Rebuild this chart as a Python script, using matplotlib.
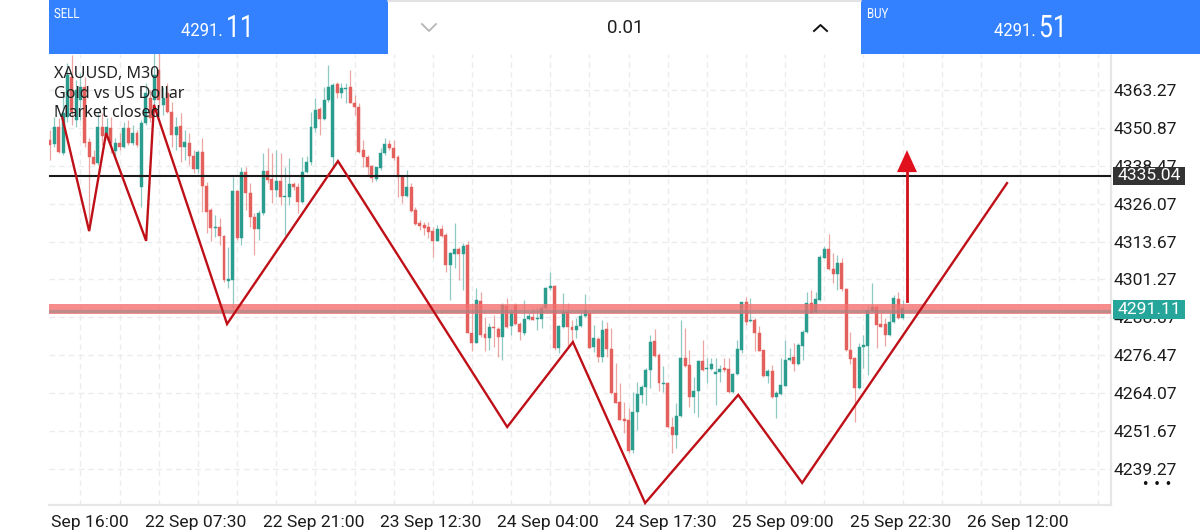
import matplotlib
matplotlib.use("Agg")
import matplotlib.pyplot as plt
from matplotlib.patches import Rectangle
from matplotlib.patheffects import AbstractPathEffect
from matplotlib.transforms import ScaledTranslation, Affine2D

# ---------- data ----------
direction = ("RGRGGRGGRR" "RGRGRGRGRG" "RGGRGRGRRG" "RGRRGRRRGR" "RGGRGRRRGG"
             "RRGRGGRRGG" "GGRGGGRGGR" "RRRRRGGGRR" "RRGRRRRRRG" "RRGGRGRRGR"
             "RGRRGRGRRG" "GRGGGGRGGR" "RGGGRGRGRR" "RRRRGGGGGR" "RGRRGGRRGG"
             "RGGGGRRGGG" "RGRRRGRGGG" "GRGGGRGGGR" "RGRRRRGGGG" "RRRGGRG")
body_top = [
4346.9,4351.1,4351.1,4355.6,4368.2,4367.6,4363.3,4364.4,4364.4,4346.4,
4341.5,4351.1,4351.1,4351.1,4350.7,4346.0,4346.0,4350.7,4350.7,4349.1,
4349.1,4352.6,4362.2,4360.5,4368.2,4369.8,4360.5,4362.2,4356.2,4351.3,
4351.5,4346.4,4346.0,4341.7,4343.1,4343.1,4331.9,4324.0,4318.6,4318.6,
4315.5,4301.3,4330.3,4330.3,4336.5,4336.5,4329.7,4321.8,4322.9,4336.9,
4336.9,4334.0,4333.6,4333.6,4328.6,4332.4,4332.4,4331.4,4336.5,4339.8,
4351.1,4356.7,4357.0,4360.0,4364.4,4364.9,4365.2,4363.8,4363.9,4364.4,
4359.1,4357.8,4343.6,4341.2,4338.4,4338.0,4342.8,4345.6,4345.6,4344.2,
4341.2,4334.9,4331.6,4331.6,4324.0,4319.7,4319.1,4318.3,4317.2,4317.7,
4317.7,4315.8,4309.8,4311.1,4311.1,4312.3,4312.6,4283.7,4294.6,4294.3,
4283.4,4285.8,4285.8,4285.0,4292.9,4292.6,4290.7,4292.9,4286.7,4288.3,
4289.3,4289.1,4288.6,4291.8,4298.6,4299.1,4299.1,4286.1,4290.7,4290.7,
4285.6,4286.2,4289.4,4291.3,4290.4,4282.1,4281.9,4284.7,4285.0,4278.4,
4264.2,4261.1,4255.6,4255.3,4258.0,4263.7,4266.0,4271.7,4280.9,4281.1,
4276.6,4267.5,4267.3,4252.9,4256.7,4275.5,4275.5,4273.2,4264.8,4274.6,
4274.6,4272.2,4273.6,4270.9,4272.1,4272.2,4271.9,4270.4,4278.4,4294.0,
4294.0,4288.0,4288.0,4283.6,4278.2,4271.4,4271.3,4264.2,4266.7,4274.9,
4275.6,4275.8,4279.8,4284.2,4293.5,4293.5,4294.8,4308.5,4311.1,4311.1,
4304.7,4306.8,4306.8,4298.2,4278.2,4275.5,4279.1,4279.8,4291.3,4292.2,
4292.2,4286.7,4286.7,4287.5,4295.1,4294.8,4291.8]
body_bottom = [
4345.3,4345.5,4343.1,4342.6,4354.5,4356.2,4353.5,4360.0,4346.0,4341.5,
4338.9,4339.3,4348.2,4348.5,4345.8,4343.4,4344.5,4344.5,4346.0,4346.0,
4345.3,4331.4,4352.6,4354.0,4360.0,4360.0,4358.4,4356.2,4348.5,4348.5,
4344.7,4344.5,4341.7,4337.3,4337.3,4331.9,4323.5,4318.2,4318.2,4315.5,
4301.1,4300.9,4301.1,4314.7,4314.7,4329.7,4321.8,4317.8,4317.8,4322.9,
4333.8,4330.6,4330.6,4328.4,4328.2,4328.4,4331.4,4326.7,4326.7,4336.3,
4339.6,4350.7,4353.7,4353.7,4360.0,4341.5,4362.2,4362.4,4363.7,4359.1,
4357.8,4343.1,4341.2,4338.2,4334.4,4334.0,4337.6,4342.6,4344.2,4340.9,
4334.9,4328.6,4328.6,4323.8,4319.4,4318.9,4318.0,4316.9,4314.0,4314.0,
4315.6,4306.0,4306.0,4309.6,4309.6,4309.5,4283.7,4280.4,4280.4,4283.1,
4282.0,4282.0,4285.3,4282.3,4282.3,4285.8,4286.1,4286.7,4284.2,4283.7,
4288.2,4288.0,4288.2,4288.2,4291.8,4298.5,4278.8,4278.8,4285.8,4285.8,
4284.7,4284.7,4286.2,4289.4,4279.0,4279.1,4276.0,4276.0,4278.4,4264.0,
4261.0,4255.3,4255.1,4245.2,4245.5,4258.0,4263.6,4266.0,4271.7,4276.2,
4267.3,4267.2,4252.9,4250.4,4250.4,4256.7,4273.0,4262.9,4262.9,4264.8,
4271.7,4271.9,4272.0,4270.2,4270.9,4271.7,4264.6,4264.3,4270.4,4278.2,
4287.5,4287.7,4283.6,4277.9,4269.7,4269.7,4262.7,4262.7,4263.7,4266.5,
4274.9,4273.6,4273.6,4279.5,4284.2,4290.4,4290.5,4294.6,4308.3,4304.6,
4302.9,4302.9,4298.0,4278.2,4275.1,4265.9,4265.6,4279.1,4279.6,4291.1,
4286.4,4285.6,4283.1,4283.1,4287.2,4288.6,4288.6]
high = [
4350.2,4354.5,4354.0,4362.2,4372.0,4374.7,4366.5,4368.7,4367.6,4347.5,
4343.6,4355.6,4355.6,4354.0,4354.5,4347.5,4349.1,4352.9,4353.5,4351.8,
4350.2,4353.5,4365.5,4363.3,4375.3,4375.3,4364.4,4365.5,4359.5,4354.5,
4355.6,4350.2,4349.1,4343.6,4343.6,4347.5,4333.3,4324.5,4322.4,4321.3,
4315.8,4312.0,4334.9,4330.6,4338.2,4338.2,4332.8,4322.9,4324.0,4342.6,
4344.2,4342.6,4343.6,4342.6,4338.2,4340.9,4333.3,4332.8,4341.5,4341.7,
4356.2,4360.5,4357.8,4364.4,4371.4,4365.5,4366.0,4365.7,4365.5,4369.8,
4361.6,4358.9,4346.9,4342.0,4338.7,4338.2,4344.2,4347.5,4346.9,4346.9,
4342.0,4335.5,4337.1,4332.7,4325.1,4320.7,4320.2,4320.2,4318.6,4319.1,
4319.1,4316.4,4310.4,4319.7,4312.0,4313.1,4313.7,4293.5,4298.4,4297.3,
4289.1,4286.9,4289.7,4285.8,4293.5,4295.1,4291.8,4293.5,4287.5,4294.6,
4290.7,4291.8,4292.4,4292.9,4298.9,4303.8,4299.5,4286.4,4296.7,4293.5,
4288.0,4288.6,4291.3,4296.5,4290.7,4286.4,4282.6,4288.0,4287.5,4285.3,
4273.8,4267.3,4261.3,4259.1,4264.6,4267.8,4266.7,4272.2,4283.1,4285.0,
4277.1,4273.0,4267.8,4256.4,4260.8,4288.0,4285.3,4278.2,4269.5,4274.9,
4281.5,4275.5,4275.5,4275.5,4273.3,4275.5,4275.5,4270.6,4281.3,4294.0,
4295.6,4295.1,4288.6,4286.0,4278.2,4271.9,4273.3,4264.9,4275.5,4281.5,
4278.7,4280.4,4280.4,4284.7,4297.3,4297.8,4297.3,4309.3,4312.2,4316.1,
4309.8,4309.3,4308.2,4298.4,4284.2,4276.0,4280.4,4283.1,4292.9,4300.2,
4292.9,4290.2,4288.6,4290.2,4296.2,4297.3,4294.6]
low = [
4340.4,4344.7,4342.6,4342.0,4352.9,4351.8,4351.3,4353.5,4344.7,4319.6,
4338.7,4338.7,4345.3,4346.9,4342.6,4341.5,4343.6,4344.2,4345.3,4345.3,
4344.7,4325.1,4351.8,4352.9,4357.8,4357.8,4355.1,4355.6,4344.7,4343.6,
4339.8,4340.4,4338.7,4336.0,4336.0,4323.5,4316.4,4313.7,4315.3,4312.6,
4300.6,4298.4,4291.8,4314.2,4312.6,4324.0,4318.6,4309.3,4314.2,4322.4,
4332.8,4326.2,4328.4,4325.6,4315.8,4325.6,4330.6,4322.9,4326.2,4336.0,
4338.7,4349.6,4348.5,4353.5,4359.5,4338.2,4360.5,4360.5,4358.9,4358.9,
4355.1,4342.6,4338.2,4335.5,4333.3,4333.6,4337.1,4342.0,4343.6,4340.4,
4328.4,4326.2,4328.4,4323.5,4319.1,4317.5,4315.8,4314.7,4308.7,4313.7,
4315.3,4303.8,4294.6,4304.9,4301.1,4297.8,4283.7,4277.7,4280.4,4282.6,
4277.7,4278.2,4279.3,4276.0,4274.9,4285.3,4283.1,4286.4,4281.5,4283.1,
4288.0,4288.0,4284.7,4285.3,4291.3,4297.8,4278.2,4277.1,4285.3,4279.3,
4280.9,4282.0,4285.8,4289.1,4278.7,4277.6,4274.4,4274.4,4276.0,4263.8,
4260.8,4255.3,4250.9,4244.6,4244.4,4252.0,4260.8,4260.2,4265.7,4275.8,
4264.9,4264.6,4252.6,4244.6,4246.0,4256.4,4272.7,4259.4,4257.7,4256.4,
4271.4,4267.3,4271.7,4260.2,4267.8,4271.1,4264.2,4264.0,4270.0,4277.1,
4286.4,4287.5,4277.7,4277.7,4269.5,4267.5,4262.4,4255.8,4263.5,4266.4,
4274.7,4271.4,4273.3,4274.9,4283.9,4290.2,4290.2,4294.3,4308.2,4304.4,
4300.0,4297.8,4297.6,4278.0,4273.6,4254.7,4265.3,4272.2,4270.0,4290.7,
4279.0,4285.6,4279.5,4282.8,4286.9,4288.3,4288.2]

zigzag_bar = [2.8,9.0,12.9,22.1,23.9,40.7,66.2,105.1,120.2,136.8,158.2,172.9,220.0]
zigzag_price = [4354.4,4317.1,4349.2,4313.9,4358.4,4286.7,4340.0,4253.0,4280.8,4228.1,4263.5,4234.7,4332.8]

price_ticks = [4363.27,4350.87,4338.47,4326.07,4313.67,4301.27,4288.87,4276.47,4264.07,4251.67,4239.27]
time_ticks = [7,34,61,88,115,142,169,196,223]
time_labels = ["Sep 16:00","22 Sep 07:30","22 Sep 21:00","23 Sep 12:30","24 Sep 04:00",
               "24 Sep 17:30","25 Sep 09:00","25 Sep 22:30","26 Sep 12:00"]
minor_time = list(range(7, 243, 9))
target_price = 4335.04
current_price = 4291.11
band_low, band_high = 4289.9, 4293.2
arrow_bar, arrow_from, arrow_base, arrow_tip = 197.0, 4294.3, 4336.4, 4343.6
arrow_half = 2.3

# ---------- style ----------
GREEN, RED = "#2a9d8f", "#e4605c"
GREEN_W, RED_W = "#8fc9c2", "#eba6a3"
BLUE = "#3381ff"
GRID = "#ececec"
W, H = 1200, 532


class Condense(AbstractPathEffect):
    """Narrows a text horizontally, as the condensed face of the app does."""
    def __init__(self, sx):
        super().__init__()
        self.sx = sx

    def draw_path(self, renderer, gc, tpath, affine, rgbFace=None):
        renderer.draw_path(gc, tpath, Affine2D().scale(self.sx, 1) + affine, rgbFace)


fig = plt.figure(figsize=(W / 100, H / 100), dpi=100, facecolor="white")
L, R, T, B = 49, 1111, 54, 505
ax = fig.add_axes([L / W, 1 - B / H, (R - L) / W, (B - T) / H])
ax.set_xlim(-0.23, 243.9)
ax.set_ylim(4227.47, 4375.05)

for s in ("top", "left"):
    ax.spines[s].set_visible(False)
for s in ("right", "bottom"):
    ax.spines[s].set_color("#e6e6e6")
    ax.spines[s].set_linewidth(1.6)

ax.set_xticks(time_ticks)
ax.set_xticklabels(time_labels, fontfamily="Roboto", fontsize=12.6, color="#1c1c1c")
ax.yaxis.tick_right()
ax.set_yticks(price_ticks)
ax.set_yticklabels([f"{p:.2f}" for p in price_ticks], fontfamily="Roboto", fontsize=12.6, color="#1c1c1c")
ax.tick_params(axis="both", length=0)
ax.tick_params(axis="x", pad=7)
ax.tick_params(axis="y", pad=2)

for v in minor_time:
    ax.axvline(v, color=GRID, lw=1, ls=(0, (4, 3)), zorder=0)
for p in price_ticks:
    ax.axhline(p, color=GRID, lw=1, ls=(0, (4, 3)), zorder=0)

shift = ScaledTranslation(-2 / 100, 0, fig.dpi_scale_trans)
labels = ax.get_xticklabels()
for t in labels[1:]:
    t.set_transform(t.get_transform() + shift)
labels[0].set_ha("left")
labels[0].set_transform(labels[0].get_transform() + ScaledTranslation(-29 / 100, 0, fig.dpi_scale_trans))

# candles
for i, d in enumerate(direction):
    wick = GREEN_W if d == "G" else RED_W
    col = GREEN if d == "G" else RED
    ax.vlines(i, low[i], high[i], color=wick, lw=0.9, zorder=2)
    ax.bar(i, body_top[i] - body_bottom[i], bottom=body_bottom[i], width=0.68,
           color=col, edgecolor=col, linewidth=0.3, zorder=3)

# levels
ax.axhspan(band_low, band_high, color="#f47070", alpha=0.8, lw=0, zorder=4)
ax.axhline(current_price, color="#8a8a8a", lw=2.2, alpha=0.5, zorder=4)
ax.axhline(target_price, color="#1a1a1a", lw=1.5, zorder=4)

# drawings
ax.plot(zigzag_bar, zigzag_price, color="#bf1018", lw=1.7, zorder=5, solid_joinstyle="miter")
ax.plot([arrow_bar, arrow_bar], [arrow_from, arrow_base], color="#d0101c", lw=2, zorder=5)
ax.fill([arrow_bar - arrow_half, arrow_bar + arrow_half, arrow_bar],
        [arrow_base, arrow_base, arrow_tip], color="#e0101c", lw=0, zorder=5)

# ---------- interface overlay (pixel space) ----------
ov = fig.add_axes([0, 0, 1, 1], zorder=5)
ov.set_xlim(0, W)
ov.set_ylim(H, 0)
ov.axis("off")
ov.patch.set_visible(False)

ov.add_patch(Rectangle((49, 0), 339, 54, color=BLUE, lw=0))
ov.add_patch(Rectangle((861, 0), 339, 54, color=BLUE, lw=0))
ov.add_patch(Rectangle((388, 0), 473, 54, color="white", lw=0))
ov.plot([388, 861], [0.5, 0.5], color="#dddddd", lw=1.2)


def ui_text(x, y, s, size, sx):
    t = ov.text(x, y, s, color="white", family="Roboto", fontsize=size, va="baseline", ha="left")
    t.set_path_effects([Condense(sx)])


ui_text(54, 18, "SELL", 10, 0.82)
ui_text(867, 18, "BUY", 10, 0.82)
ui_text(181, 36, "4291.", 13, 0.92)
ui_text(226, 37, "11", 22.3, 0.80)
ui_text(994, 36, "4291.", 13, 0.92)
ui_text(1039, 37, "51", 22.3, 0.80)

ov.text(625, 28, "0.01", color="#1f1f1f", family="Roboto", fontsize=13.5, va="center", ha="center")
ov.plot([422, 429, 436], [24, 31, 24], color="#b5b5b5", lw=1.3)
ov.plot([814, 820.5, 827], [31, 25, 31], color="#111111", lw=1.4)

for y, s in zip((74, 93.5, 113), ("XAUUSD, M30", "Gold vs US Dollar", "Market closed")):
    ov.text(54, y, s, color="#222222", family="Noto Sans", fontsize=11.6, va="center")

ov.add_patch(Rectangle((1113, 167), 72, 18, color="#333333", lw=0))
ov.text(1149, 176, f"{target_price:.2f}", color="white", family="Roboto", fontsize=12.6, va="center", ha="center")
ov.add_patch(Rectangle((1113, 300), 72, 19, color="#26a69a", lw=0))
ov.text(1149, 310, f"{current_price:.2f}", color="white", family="Roboto", fontsize=12.6, va="center", ha="center")
ov.text(1157, 484, "• • •", color="#111111", family="DejaVu Sans", fontsize=9, va="center", ha="center")

fig.savefig("out.png", dpi=100, facecolor="white")
